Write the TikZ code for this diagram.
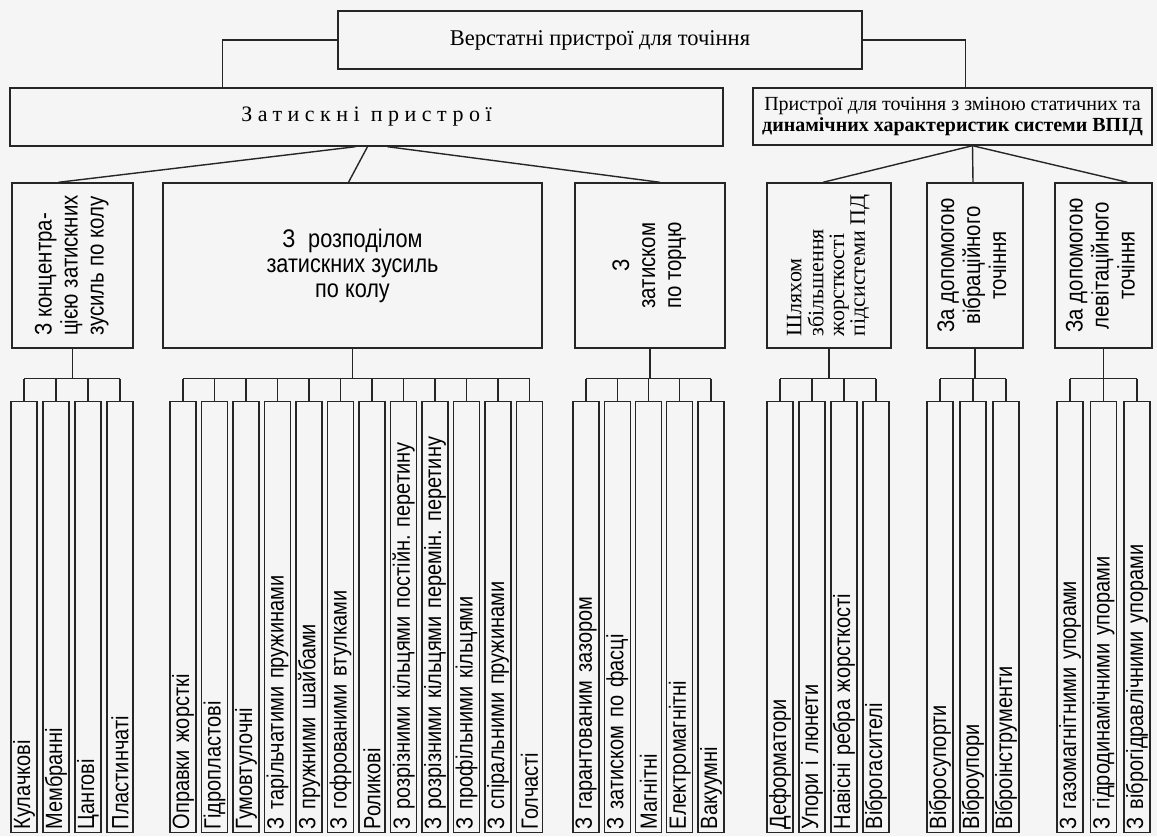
\documentclass[tikz,border=0pt]{standalone}
\usepackage{fontspec}
\setmainfont{Liberation Serif}
\setsansfont{Liberation Sans}
\newfontfamily\narrowsf[FakeStretch=0.85]{Liberation Sans}
\newfontfamily\spacedrm[LetterSpace=25]{Liberation Serif}
\usetikzlibrary{calc}
\newcommand{\uptext}[2]{\rotatebox{90}{\begin{tabular}{@{}#1@{}}#2\end{tabular}}}
\frenchspacing

\tikzset{
  box/.style={draw,inner sep=0pt,text=black},
  midbox/.style={box,minimum height=165pt,font=\narrowsf\fontsize{24}{26}\selectfont},
  leaf/.style={draw,rotate=90,anchor=west,inner sep=0pt,minimum width=431pt,minimum height=26pt,text=black,
    text width=425pt,align=left,font=\narrowsf\fontsize{23.5}{26}\selectfont}
}

\begin{document}
\begin{tikzpicture}[x=1pt,y=-1pt,line width=1.4pt,color=black!85]
  \fill[black!4] (0,0) rectangle (1157,836);
  \useasboundingbox (0,0) rectangle (1157,836);

  \node[box,minimum width=524pt,minimum height=58pt,font=\fontsize{22.5}{24}\selectfont] (root) at (600,40) {Верстатні пристрої для точіння};
  \node[box,minimum width=713pt,minimum height=58pt,font=\spacedrm\fontsize{22}{24}\selectfont] (clamp) at (366.5,117) {Затискні пристрої};
  \node[box,minimum width=399pt,minimum height=57pt,align=center,font=\fontsize{20}{21}\selectfont] (dyn) at (952.5,116.5)
    {Пристрої для точіння з зміною статичних та\\\textbf{динамічних характеристик системи ВПІД}};
  \draw (root.west) -| ($(clamp.north west)+(213,0)$);
  \draw (root.east) -| ($(dyn.north west)+(213,0)$);

  \node[midbox,minimum width=121pt] (b1) at (72.5,265.5) {\uptext{l}{З концентра-\\цією затискних\\зусиль по колу}};
  \node[midbox,minimum width=379pt,align=center,font=\narrowsf\fontsize{25.5}{25}\selectfont] (b2) at (352.5,265.5) {З\enspace розподілом\\затискних зусиль\\по колу};
  \node[midbox,minimum width=150pt] (b3) at (650,265.5) {\uptext{c}{З\\затиском\\по торцю}};
  \node[midbox,minimum width=124pt,font=\fontsize{22}{20.5}\selectfont] (b4) at (829,265.5) {\uptext{l}{Шляхом\\збільшення\\жорсткості\\підсистеми ПД}};
  \node[midbox,minimum width=96pt] (b5) at (975,265.5) {\uptext{c}{За допомогою\\вібраційного\\точіння}};
  \node[midbox,minimum width=97pt] (b6) at (1103.5,265.5) {\uptext{c}{За допомогою\\левітаційного\\точіння}};

  \draw ($(clamp.south)+(-11,0)$) -- ($(b1.north)+(-14,0)$);
  \draw ($(clamp.south)+(1,0)$) -- ($(b2.north)+(-4,0)$);
  \draw ($(clamp.south)+(21,0)$) -- ($(b3.north)+(10,0)$);
  \draw ($(dyn.south)+(20,0)$) -- ($(b4.north)+(-6,0)$);
  \draw ($(dyn.south)+(20,0)$) -- ($(b5.north)+(-2,0)$);
  \draw ($(dyn.south)+(20,0)$) -- ($(b6.north)+(24,0)$);

  \foreach \lbl [count=\i] in {Кулачкові,Мембранні,Цангові,Пластинчаті}
    \node[leaf] (k\i) at ({24+32*(\i-1)},833) {\lbl};
  \draw (b1.south) -- ++(0,30) coordinate (j1);
  \draw (k1.east |- j1) -- (k4.east |- j1);
  \foreach \i in {1,...,4} \draw (k\i.east |- j1) -- (k\i.east);

  \foreach \lbl [count=\i] in {Оправки жорсткі,Гідропластові,Гумовтулочні,З тарільчатими пружинами,
      З пружними шайбами,З гофрованими втулками,Роликові,З розрізними кільцями постійн. перетину,
      З розрізними кільцями перемін. перетину,З профільними кільцями,З спіральними пружинами,Голчасті}
    \node[leaf] (r\i) at ({183+31.5*(\i-1)},833) {\lbl};
  \draw (b2.south) -- ++(0,30) coordinate (j2);
  \draw (r1.east |- j2) -- (r12.east |- j2);
  \foreach \i in {1,...,12} \draw (r\i.east |- j2) -- (r\i.east);

  \foreach \lbl [count=\i] in {З гарантованим зазором,З затиском по фасці,Магнітні,Електромагнітні,Вакуумні}
    \node[leaf] (t\i) at ({586+31.25*(\i-1)},833) {\lbl};
  \draw (b3.south) -- ++(0,30) coordinate (j3);
  \draw (t1.east |- j3) -- (t5.east |- j3);
  \foreach \i in {1,...,5} \draw (t\i.east |- j3) -- (t\i.east);

  \foreach \lbl [count=\i] in {Деформатори,Упори і люнети,Навісні ребра жорсткості,Віброгасителі}
    \node[leaf] (s\i) at ({780+32*(\i-1)},833) {\lbl};
  \draw (b4.south) -- ++(0,30) coordinate (j4);
  \draw (s1.east |- j4) -- (s4.east |- j4);
  \foreach \i in {1,...,4} \draw (s\i.east |- j4) -- (s\i.east);

  \foreach \lbl [count=\i] in {Вібросупорти,Віброупори,Віброінструменти}
    \node[leaf] (v\i) at ({940+33*(\i-1)},833) {\lbl};
  \draw (b5.south) -- ++(0,30) coordinate (j5);
  \draw (v1.east |- j5) -- (v3.east |- j5);
  \foreach \i in {1,...,3} \draw (v\i.east |- j5) -- (v\i.east);

  \foreach \lbl [count=\i] in {З газомагнітними упорами,З гідродинамічними упорами,З віброгідравлічними упорами}
    \node[leaf] (l\i) at ({1070+33.5*(\i-1)},833) {\lbl};
  \draw (b6.south) -- ++(0,30) coordinate (j6);
  \draw (l1.east |- j6) -- (l3.east |- j6);
  \foreach \i in {1,...,3} \draw (l\i.east |- j6) -- (l\i.east);
\end{tikzpicture}
\end{document}
